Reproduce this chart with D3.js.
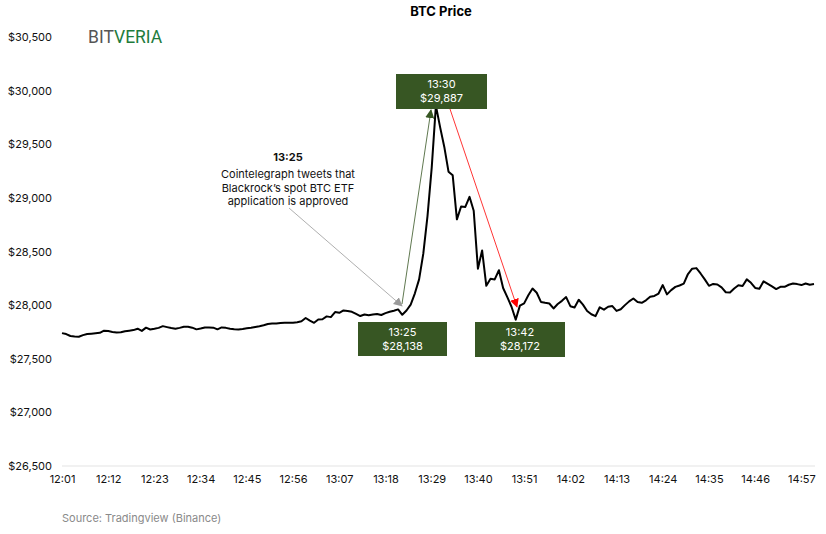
<!DOCTYPE html>
<meta charset="utf-8">
<title>BTC Price</title>
<style>
body{
  margin:0;
  background:#fff;
  font-family:'Inter', 'Open Sans', sans-serif;
}
svg{ display:block; }
.axis text{ font-size:11px; fill:#111; font-family:'Inter', sans-serif; }
.axis path, .axis line{ display:none; }
.price{ fill:none; stroke:#000; stroke-width:2; stroke-linejoin:round; }
.box rect{ fill:#375623; }
.box text{ fill:#fff; font-size:11px; text-anchor:middle; }
.note text{ font-size:11px; fill:#111; text-anchor:middle; }
</style>
<svg width="826" height="534"></svg>

<script src="https://cdnjs.cloudflare.com/ajax/libs/d3/7.8.5/d3.min.js"></script>
<script>

// one point per minute, 12:01 -> 15:00
var times = [];
for (var m = 12*60+1; m <= 15*60; m++) {
  times.push(Math.floor(m/60) + ":" + ("0" + (m%60)).slice(-2));
}

var prices = [
  27739,27730,27712,27708,27705,27720,27730,27734,27738,27742,
  27762,27758,27750,27744,27748,27757,27762,27767,27780,27760,
  27790,27773,27780,27788,27804,27795,27786,27780,27788,27798,
  27798,27790,27774,27782,27792,27792,27790,27774,27792,27788,
  27780,27775,27773,27778,27784,27789,27796,27803,27812,27824,
  27829,27829,27834,27835,27835,27835,27840,27850,27880,27855,
  27835,27866,27868,27895,27888,27935,27928,27950,27945,27938,
  27918,27898,27912,27905,27912,27918,27908,27925,27938,27948,
  27960,27910,27950,28005,28110,28240,28480,28830,29280,29860,
  29660,29475,29244,29210,28800,28920,28915,29010,28880,28340,
  28510,28180,28245,28240,28325,28160,28075,27985,27865,27995,
  28016,28092,28155,28115,28030,28022,28015,27969,28010,28040,
  28075,27990,27978,28050,28005,27945,27915,27897,27980,27958,
  27985,27991,27946,27962,28000,28035,28062,28030,28022,28045,
  28078,28086,28108,28187,28100,28140,28170,28183,28200,28290,
  28340,28345,28295,28240,28180,28198,28192,28165,28120,28118,
  28155,28185,28178,28240,28208,28160,28153,28222,28198,28175,
  28150,28171,28171,28190,28202,28196,28187,28202,28190,28196
];

var yTicks = [26500,27000,27500,28000,28500,29000,29500,30000,30500];
var xTicks = ["12:01","12:12","12:23","12:34","12:45","12:56","13:07","13:18","13:29",
              "13:40","13:51","14:02","14:13","14:24","14:35","14:46","14:57"];

var callouts = [
  {time:"13:30", label:"$29,887"},
  {time:"13:25", label:"$28,138"},
  {time:"13:42", label:"$28,172"}
];
var noteLines = ["Cointelegraph tweets that", "Blackrock\u2019s spot BTC ETF", "application is approved"];

var svg = d3.select("svg");

var x = d3.scalePoint().domain(times).range([62, 814]);
var y = d3.scaleLinear().domain([26500, 30500]).range([466, 37]);

// title
svg.append("text")
  .attr("x", 441).attr("y", 16)
  .attr("text-anchor", "middle")
  .style("font-weight", "bold").style("font-size", "13px")
  .text("BTC Price");

// logo
var logo = svg.append("text")
  .attr("x", 88).attr("y", 43)
  .style("font-family", "Roboto, sans-serif")
  .style("font-size", "17.5px");
logo.append("tspan").attr("fill", "#555").text("BIT");
logo.append("tspan").attr("fill", "#1e7b3c").text("VERIA");

// baseline
svg.append("line")
  .attr("x1", 62).attr("x2", 815)
  .attr("y1", y(26500)).attr("y2", y(26500))
  .attr("stroke", "#e3e3e3").attr("stroke-width", 1);

svg.append("g")
  .attr("class", "axis")
  .attr("transform", "translate(52,0)")
  .call(d3.axisLeft(y).tickValues(yTicks).tickSize(0).tickPadding(0)
    .tickFormat(function(d){ return "$" + d3.format(",")(d); }));

svg.append("g")
  .attr("class", "axis")
  .attr("transform", "translate(0,475)")
  .call(d3.axisBottom(x).tickValues(xTicks).tickSize(0).tickPadding(0));

// arrow markers
var defs = svg.append("defs");
[["gray","#9a9a9a"],["green","#375623"],["red","#ff0000"]].forEach(function(c){
  defs.append("marker")
    .attr("id", "ah-" + c[0])
    .attr("viewBox", "0 0 10 10")
    .attr("refX", 9).attr("refY", 5)
    .attr("markerWidth", 9).attr("markerHeight", 9)
    .attr("markerUnits", "userSpaceOnUse")
    .attr("orient", "auto")
    .append("path").attr("d", "M0,0L10,5L0,10z").attr("fill", c[1]);
});

// price line
var line = d3.line()
  .x(function(d, i){ return x(times[i]); })
  .y(function(d){ return y(d); });

svg.append("path")
  .datum(prices)
  .attr("class", "price")
  .attr("d", line);

// arrows
svg.append("line")
  .attr("x1", 289).attr("y1", 208).attr("x2", 402).attr("y2", 306)
  .attr("stroke", "#9a9a9a").attr("stroke-width", 0.8)
  .attr("marker-end", "url(#ah-gray)");
svg.append("line")
  .attr("x1", 402).attr("y1", 304).attr("x2", 431).attr("y2", 110)
  .attr("stroke", "#375623").attr("stroke-width", 0.8)
  .attr("marker-end", "url(#ah-green)");
svg.append("line")
  .attr("x1", 450).attr("y1", 109).attr("x2", 517).attr("y2", 307)
  .attr("stroke", "#ff0000").attr("stroke-width", 0.8)
  .attr("marker-end", "url(#ah-red)");

// callout boxes
var boxPos = [[396, 74, 91, 35], [358, 322, 89, 34], [475, 322, 90, 35]];
callouts.forEach(function(c, i){
  var p = boxPos[i];
  var g = svg.append("g").attr("class", "box");
  g.append("rect").attr("x", p[0]).attr("y", p[1]).attr("width", p[2]).attr("height", p[3]);
  g.append("text").attr("x", p[0] + p[2]/2).attr("y", p[1] + 14).text(c.time);
  g.append("text").attr("x", p[0] + p[2]/2).attr("y", p[1] + 28).text(c.label);
});

// note
var note = svg.append("g").attr("class", "note");
note.append("text").attr("x", 288).attr("y", 161)
  .style("font-weight", "bold").text("13:25");
noteLines.forEach(function(t, i){
  note.append("text").attr("x", 288).attr("y", 178 + i*13.5).text(t);
});

// source
svg.append("text")
  .attr("x", 62).attr("y", 522)
  .style("font-size", "11px").attr("fill", "#8a8a8a")
  .text("Source: Tradingview (Binance)");

</script>
